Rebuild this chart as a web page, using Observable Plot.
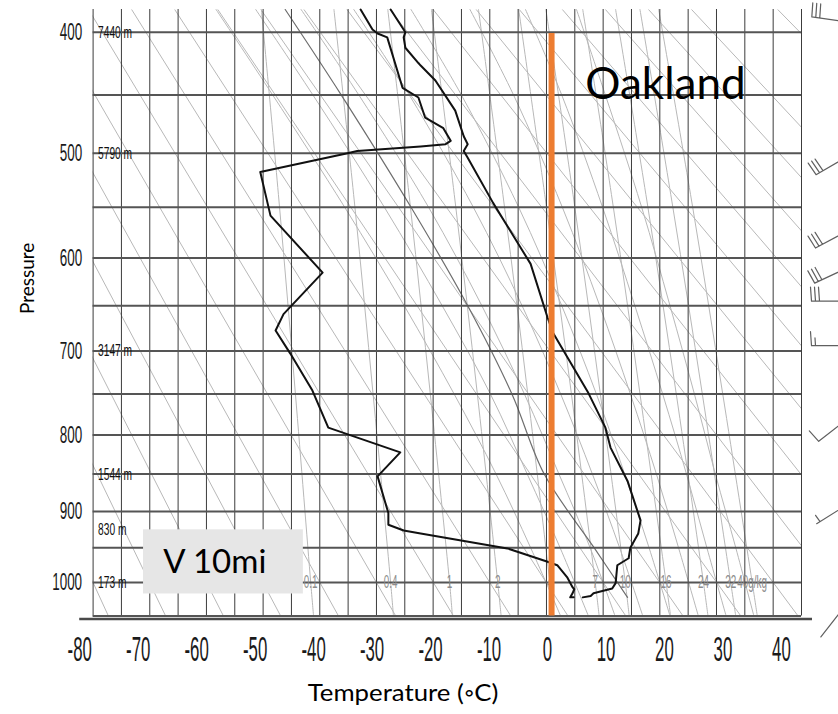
<!DOCTYPE html>
<html><head><meta charset="utf-8">
<script src="https://cdn.jsdelivr.net/npm/d3@7"></script>
<script src="https://cdn.jsdelivr.net/npm/@observablehq/plot@0.6"></script>
<style>
html,body{margin:0;padding:0;background:#fff;}
#chart{position:relative;width:838px;height:714px;overflow:hidden;background:#fff;}
#chart svg{position:absolute;left:0;top:0;}
</style></head><body><div id="chart"></div>
<script>
// ---------- axis / grid values ----------
const isotherms = [-80,-75,-70,-65,-60,-55,-50,-45,-40,-35,-30,-25,-20,-15,-10,-5,0,5,10,15,20,25,30,35,40,45];
const isobars = [400,450,500,550,600,650,700,750,800,850,900,950,1000,1050];
const pressureTicks = [400,500,600,700,800,900,1000];
const tempTicks = [-80,-70,-60,-50,-40,-30,-20,-10,0,10,20,30,40];

// dry adiabats (labelled by temperature at 1000 hPa): temperature at 383 hPa and at 1050 hPa
const dryT1000   = [-80,-70,-60,-50,-40,-30,-20,-10,0,10,20,30,40,50,60,70,80,90,100,110,120,140];
const dryTop     = [-126.4,-118.8,-111.2,-103.6,-96.0,-88.4,-80.8,-73.2,-65.6,-58.0,-50.4,-42.8,-35.2,-27.6,-20.0,-12.4,-4.8,2.8,10.4,18.0,25.6,40.8];
const dryBottom  = [-77.3,-67.2,-57.0,-46.9,-36.7,-26.6,-16.4,-6.3,3.8,14.0,24.1,34.3,44.4,54.5,64.7,74.8,85.0,95.1,105.2,115.4,125.5,145.8];

// mixing-ratio lines (g/kg)
const mixRatios    = [0.1,0.4,1,2,4,7,10,16,24,32,40];
const mixLabels    = ["0.1","0.4","1","2","4","7","10","16","24","32","40g/kg"];
const mixPressures = [383,550,750,1000,1050];
const mixTemps = [
  [-50.3,-47.1,-44.3,-41.6,-41.1],
  [-37.5,-33.8,-30.6,-27.5,-27.0],
  [-28.0,-24.0,-20.5,-17.1,-16.6],
  [-20.3,-16.0,-12.2,-8.6,-8.0],
  [-12.0,-7.4,-3.3,0.6,1.3],
  [-4.9,0.0,4.4,8.6,9.3],
  [-0.1,5.0,9.5,13.9,14.6],
  [6.4,11.8,16.5,21.1,21.9],
  [12.2,17.9,22.9,27.7,28.5],
  [16.5,22.3,27.5,32.5,33.4],
  [19.8,25.8,31.1,36.3,37.2]
];

// saturated (moist) adiabats, by wet-bulb potential temperature
const moistThetaW    = [0,5,10,15,20,25,30,35];
const moistPressures = [383,450,550,650,750,850,950,1050];
const moistTemps = [
  [-58.3,-48.3,-35.6,-25.1,-16.3,-8.9,-2.8,2.5],
  [-51.3,-41.2,-28.6,-18.4,-9.9,-3.4,2.4,7.4],
  [-43.3,-33.1,-20.8,-11.4,-3.9,2.2,7.7,12.1],
  [-34.0,-24.2,-12.9,-4.3,2.5,8.1,12.9,17.0],
  [-23.9,-15.0,-4.9,2.7,8.8,13.8,18.1,21.8],
  [-13.5,-5.8,2.8,9.4,14.8,19.4,23.3,26.8],
  [-3.7,2.7,9.9,15.6,20.5,24.7,28.3,31.7],
  [5.3,10.4,16.8,21.8,26.1,29.8,33.4,36.6]
];

// lifted parcel path
const parcelP = [1022,950,850,750,650,550,450,383];
const parcelT = [14.3,8.4,-0.4,-6.1,-13.9,-23.9,-36.2,-46.1];

// ---------- sounding (Oakland) ----------
const tempP = [383,400,404,412,424,426,438,463,485,492,498,504,546,606,663,680,749,791,816,859,912,930,950,965,975,1001,1009,1016,1020,1022];
const tempC = [-27.5,-24.9,-25.2,-24.9,-22.6,-22.2,-19.6,-16.1,-14.6,-13.9,-14.6,-13.9,-9.4,-2.8,0.2,1.2,7.4,10.4,11.3,14.3,16.6,16.2,14.8,14.5,12.5,12.2,11.6,8.3,7.8,6.4];
const dewP = [383,398,401,404,444,452,469,478,489,492,494,498,500,517,558,615,659,677,703,746,791,822,853,902,918,926,930,951,970,975,993,1007,1010,1016,1022,1022];
const dewC = [-32.8,-30.7,-29.8,-28.1,-25.4,-22.6,-21.4,-18.2,-16.9,-17.8,-22.2,-33.4,-35.1,-50.5,-48.7,-39.5,-46.4,-47.8,-45.2,-41.3,-38.5,-25.8,-29.8,-27.9,-27.9,-25.2,-22.2,-6.9,0.2,1.9,3.7,4.6,4.9,4.6,4.2,4.8];

// heights of standard levels
const heightP = [400,500,700,850,925,1000];
const heightLabels = ["7440 m","5790 m","3147 m","1544 m","830 m","173 m"];

// winds (direction in degrees, speed in knots)
const windP     = [392,504,574,611,645,694,782,892,1034];
const windDir   = [278,240,242,245,270,270,232,238,218];
const windSpeed = [30,30,30,30,30,15,10,5,0];

// annotations
const freezing = {t: 0.9, p1: 401, p2: 1050};
const visBox = {label: "V 10mi", t1: -71.1, t2: -42.9, p1: 925, p2: 1017, tText: -67.6, pText: 971};
const station = {label: "Oakland", t: 21, p: 442};
const yTitle = {label: "Pressure", p: 621};

// ---------- build rows ----------
const dryRows = dryT1000.map((d,i) => ({t1: dryTop[i], t2: dryBottom[i], p1: 383, p2: 1050}));
const mixRows = mixRatios.flatMap((w,i) => mixPressures.map((p,j) => ({w, p, t: mixTemps[i][j]})));
const mixLabelRows = mixRatios.map((w,i) => ({label: mixLabels[i], p: 1000, t: mixTemps[i][mixPressures.indexOf(1000)]}));
const moistRows = moistThetaW.flatMap((w,i) => moistPressures.map((p,j) => ({w, p, t: moistTemps[i][j]})));
const parcelRows = parcelP.map((p,i) => ({p, t: parcelT[i]}));
const tempRows = tempP.map((p,i) => ({p, t: tempC[i]}));
const dewRows = dewP.map((p,i) => ({p, t: dewC[i]}));
const heightRows = heightP.map((p,i) => ({p, label: heightLabels[i]}));
const windRows = windP.map((p,i) => ({p, dir: windDir[i], speed: windSpeed[i]}));

function barbShape(speed) {
  return {
    draw(context, l) {
      context.moveTo(0, 0);
      context.lineTo(0, -l);
      let s = speed, y = -l;
      const len = 14, sp = 4;
      while (s >= 10) { context.moveTo(0, y); context.lineTo(len, y - 1); y += sp; s -= 10; }
      if (s >= 5) { if (y === -l) y += sp; context.moveTo(0, y); context.lineTo(len * 0.55, y - 0.5); }
    }
  };
}
const speeds = Array.from(new Set(windSpeed));
const barbMarks = speeds.map(s => Plot.vector(windRows.filter(d => d.speed === s), {
  y: "p", rotate: "dir", length: s === 0 ? 40 : 34, anchor: "start", frameAnchor: "right", dx: 44,
  shape: barbShape(s), stroke: "#606060", strokeWidth: 1.2
}));

const light = "#b8b8b8";
const narrow = "Liberation Sans, Arial, sans-serif";
const main = Plot.plot({
  width: 838, height: 714,
  marginLeft: 92.6, marginRight: 37, marginTop: 9, marginBottom: 98.5,
  style: {background: "transparent", overflow: "visible"},
  x: {domain: [-80, 45], axis: null},
  y: {type: "pow", exponent: 0.286, domain: [1050, 383], axis: null},
  marks: [
    Plot.link(dryRows, {x1: "t1", y1: "p1", x2: "t2", y2: "p2", stroke: light, strokeWidth: 1, clip: true}),
    Plot.line(moistRows, {x: "t", y: "p", z: "w", stroke: light, strokeWidth: 1, curve: "catmull-rom", clip: true}),
    Plot.line(mixRows, {x: "t", y: "p", z: "w", stroke: light, strokeWidth: 1, curve: "catmull-rom", clip: true}),
    Plot.line(parcelRows, {x: "t", y: "p", stroke: "#6e6e6e", strokeWidth: 1.2, curve: "catmull-rom", clip: true}),
    Plot.ruleX(isotherms, {stroke: "#3c3c3c", strokeWidth: 1}),
    Plot.ruleY(isobars, {stroke: "#555", strokeWidth: 2}),
    Plot.text(mixLabelRows, {x: "t", y: "p", text: "label", fill: "#8c8c8c", fontSize: 18, fontFamily: narrow}),
    Plot.line(dewRows, {x: "t", y: "p", stroke: "#111", strokeWidth: 2}),
    Plot.line(tempRows, {x: "t", y: "p", stroke: "#111", strokeWidth: 2}),
    Plot.ruleX([freezing], {x: "t", y1: "p1", y2: "p2", stroke: "#ed7d31", strokeWidth: 6}),
    Plot.text(heightRows, {y: "p", text: "label", frameAnchor: "left", dx: 5, textAnchor: "start", fontSize: 17, fontFamily: narrow, fill: "#111"}),
    Plot.text(pressureTicks, {y: d => d, text: d => String(d), frameAnchor: "left", dx: -11, textAnchor: "end", fontSize: 24, fontFamily: narrow, fill: "#1a1a1a"}),
    Plot.text([yTitle], {y: "p", text: "label", frameAnchor: "left", dx: -65, rotate: -90, textAnchor: "middle", fontSize: 19, fontFamily: "Lato, sans-serif", fill: "#000"}),
    Plot.rect([visBox], {x1: "t1", x2: "t2", y1: "p1", y2: "p2", fill: "#e6e6e6"}),
    Plot.text([visBox], {x: "tText", y: "pText", text: "label", textAnchor: "start", fontSize: 33, fontFamily: "Lato, sans-serif", fill: "#000"}),
    Plot.text([station], {x: "t", y: "p", text: "label", fontSize: 44, fontFamily: "Lato, sans-serif", fill: "#000"}),
    ...barbMarks
  ]
});

const xTitle = "Temperature (\u25E6C)";
const overlay = Plot.plot({
  width: 838, height: 714,
  marginLeft: 79.2, marginRight: 26, marginTop: 9, marginBottom: 95.5,
  style: {background: "transparent", overflow: "visible"},
  x: {domain: [-80, 40], range: [79.2, 780.9], axis: null},
  y: {domain: [0, 1], axis: null},
  marks: [
    Plot.ruleY([0], {stroke: "#4a4a4a", strokeWidth: 2.4}),
    Plot.text(tempTicks, {x: d => d, text: d => String(d), frameAnchor: "bottom", dy: 42, fontSize: 35, fontFamily: narrow, fill: "#1a1a1a"}),
    Plot.text([xTitle], {frameAnchor: "bottom", textAnchor: "middle", dx: -43, dy: 82, fontSize: 23, fontFamily: "Lato, sans-serif", fill: "#000"})
  ]
});

const chart = document.getElementById("chart");
chart.appendChild(main);
chart.appendChild(overlay);

// horizontally condense/stretch chosen labels about their own anchor
function condense(svg, labels, sx) {
  const set = new Set(labels.map(String));
  svg.querySelectorAll("text").forEach(t => {
    if (!set.has(t.textContent)) return;
    const xa = parseFloat(t.getAttribute("x"));
    const ya = t.getAttribute("y");
    const yn = ya != null && /^[-\d.]+$/.test(ya) ? parseFloat(ya) : 0;
    const x = isNaN(xa) ? 0 : xa;
    const tr = t.getAttribute("transform") || "";
    t.setAttribute("transform", `${tr} translate(${x},${yn}) scale(${sx},1)`);
    if (!isNaN(xa)) t.setAttribute("x", 0);
    if (yn !== 0) t.setAttribute("y", 0);
  });
}
condense(main, pressureTicks, 0.56);
condense(main, heightLabels, 0.6);
condense(main, mixLabels, 0.55);
condense(overlay, tempTicks, 0.48);
condense(overlay, [xTitle], 1.12);
</script></body></html>
